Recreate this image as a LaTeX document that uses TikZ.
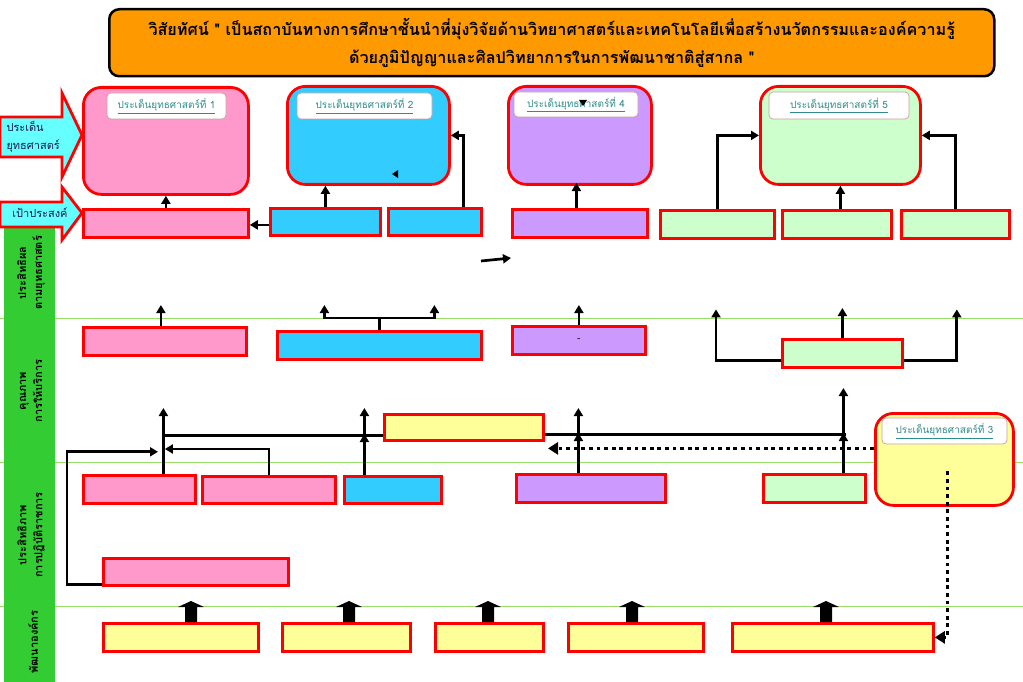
\documentclass[tikz,border=0pt]{standalone}
\usepackage{fontspec}
\setmainfont{Liberation Serif}
\newfontfamily\thai[Script=Thai]{Loma}
\usetikzlibrary{arrows.meta}
\definecolor{pinkF}{HTML}{FF99CC}
\definecolor{blueF}{HTML}{33CCFF}
\definecolor{purpF}{HTML}{CC99FF}
\definecolor{grnF}{HTML}{CCFFCC}
\definecolor{yelF}{HTML}{FFFF99}
\definecolor{cyanF}{HTML}{66FFFF}
\definecolor{barG}{HTML}{33CC33}
\definecolor{lineG}{HTML}{99DD66}
\definecolor{tealT}{HTML}{2E8C8C}
\definecolor{lblB}{HTML}{C8A0A0}
\definecolor{orangeT}{HTML}{FF9900}
\definecolor{navyT}{HTML}{1A1A50}
\newcommand\bx[6]{\node[#1, minimum width={(#5-#3)*1pt}, minimum height={(#6-#4)*1pt}] (#2) at (#3,#4) {};}
\newcommand\lb[6]{\node[lbl, minimum width=#4pt, minimum height=#5pt] (#1) at (#2,#3) {\underline{#6}};}
\newcommand\blk[1]{\fill[black] (#1-6,622) -- (#1-6,607) -- (#1-13,607) -- (#1,601) -- (#1+13,607) -- (#1+6,607) -- (#1+6,622) -- cycle;}
\begin{document}
\begin{tikzpicture}[x=1pt,y=-1pt,
  rbox/.style={draw=red, line width=2.8pt, inner sep=0pt, anchor=north west},
  tbox/.style={rbox, rounded corners=18pt},
  lbl/.style={draw=lblB, line width=0.7pt, fill=white, rounded corners=4pt, inner sep=0pt, font=\thai\fontsize{10}{12}\selectfont, text=tealT},
  arr/.style={draw=black, line width=2.7pt, -{Triangle[width=9pt,length=8pt]}},
  plain/.style={draw=black, line width=2.7pt},
  dots/.style={draw=black, line width=3.8pt, dash pattern=on 3.8pt off 3.8pt, -{Triangle[width=12pt,length=10pt]}},
  barlbl/.style={rotate=90, font=\thai\bfseries\fontsize{11}{16}\selectfont, align=center, text=black},
  lefttxt/.style={font=\thai\fontsize{11}{18}\selectfont, text=navyT, align=left}]
\useasboundingbox (0,0) rectangle (1023,682);
% band lines
\draw[lineG, line width=1pt] (0,318) -- (1023,318);
\draw[lineG, line width=1pt] (0,462) -- (1023,462);
\draw[lineG, line width=1pt] (0,606) -- (1023,606);
% green bar
\fill[barG] (4,227) rectangle (55,682);
\node[barlbl] (bl1) at (31,273) {ประสิทธิผล\\ตามยุทธศาสตร์};
\node[barlbl] (bl2) at (31,391) {คุณภาพ\\การให้บริการ};
\node[barlbl] (bl3) at (31,535) {ประสิทธิภาพ\\การปฏิบัติราชการ};
\node[barlbl] (bl4) at (33,642) {พัฒนาองค์กร};
% title
\node[draw=black, line width=2.5pt, fill=orangeT, rounded corners=10pt, minimum width=885pt, minimum height=67pt, anchor=north west, inner sep=0pt] (title) at (108,8) {};
\node[font=\thai\bfseries\fontsize{16.2}{28}\selectfont, align=center] (titletxt) at (title.center) {วิสัยทัศน์ " เป็นสถาบันทางการศึกษาชั้นนำที่มุ่งวิจัยด้านวิทยาศาสตร์และเทคโนโลยีเพื่อสร้างนวัตกรรมและองค์ความรู้\\ด้วยภูมิปัญญาและศิลปวิทยาการในการพัฒนาชาติสู่สากล "};
% left arrows
\draw[draw=red, line width=2.8pt, fill=cyanF] (0,117) -- (62,117) -- (62,93) -- (82,135) -- (62,177) -- (62,157) -- (0,157) -- cycle;
\node[lefttxt, anchor=west] (la1) at (3,137) {ประเด็น\\ยุทธศาสตร์};
\draw[draw=red, line width=2.8pt, fill=cyanF] (0,202) -- (62,202) -- (62,187) -- (82,213) -- (62,240) -- (62,227) -- (0,227) -- cycle;
\node[lefttxt] (la2) at (40,213) {เป้าประสงค์};
% top boxes
\bx{tbox, fill=pinkF}{t1}{82}{86}{247}{193}
\bx{tbox, fill=blueF}{t2}{286}{85}{448}{183}
\bx{tbox, fill=purpF}{tp}{507}{85}{650}{183}
\bx{tbox, fill=grnF}{tg}{759}{85}{919}{183}
\lb{l1}{166.5}{106}{119}{26}{ประเด็นยุทธศาสตร์ที่ 1}
\lb{l2}{364.5}{106}{135}{26}{ประเด็นยุทธศาสตร์ที่ 2}
\lb{l4}{576}{104.5}{124}{25}{ประเด็นยุทธศาสตร์ที่ 4}
\lb{l5}{839}{105.5}{140}{27}{ประเด็นยุทธศาสตร์ที่ 5}
\fill[black] (392,174) -- (398,170) -- (398,178) -- cycle;
\fill[black] (579,100) -- (587,100) -- (583,106) -- cycle;
% goal row
\bx{rbox, fill=pinkF}{g1}{82}{208}{247}{236}
\bx{rbox, fill=blueF}{gb1}{269}{207}{379}{234}
\bx{rbox, fill=blueF}{gb2}{387}{207}{480}{234}
\bx{rbox, fill=purpF}{gp}{511}{208}{646}{236}
\bx{rbox, fill=grnF}{gg1}{659}{209}{773}{237}
\bx{rbox, fill=grnF}{gg2}{781}{209}{890}{237}
\bx{rbox, fill=grnF}{gg3}{900}{209}{1008}{237}
\draw[arr] (g1.north) -- (t1.south);
\draw[arr] ([yshift=-3pt]gb1.west) -- ([yshift=-3pt]gb1.west -| g1.east);
\draw[arr] (gb1.north) -- (gb1.north |- t2.south);
\draw[arr] ([xshift=28.5pt]gb2.north) |- (t2.east);
\draw[arr] ([xshift=-3.5pt]gp.north) -- ++(0,-25);
\draw[arr] (gg1.north) |- (tg.west);
\draw[arr] (tg.south |- gg2.north) -- (tg.south);
\draw[arr] (gg3.north) |- (tg.east);
\coordinate (sa1) at (481,261);
\coordinate (sa2) at (511,258);
\draw[arr] (sa1) -- (sa2);
% quality row
\bx{rbox, fill=pinkF}{q1}{82}{326}{245}{354}
\bx{rbox, fill=blueF}{q2}{276}{330}{480}{358}
\node[rbox, fill=purpF, minimum width=133pt, minimum height=28pt] (q3) at (511,325) {\fontsize{10}{10}\selectfont -};
\bx{rbox, fill=grnF}{q4}{781}{338}{901}{366}
\draw[arr] ([xshift=-4pt]q1.north) -- ++(0,-21);
\draw[plain] (q2.north) -- ++(0,-12);
\draw[arr] ([yshift=12pt]q2.north) -- ++(-55,0) -- ++(0,-13);
\draw[arr] ([yshift=12pt]q2.north) -- ++(55,0) -- ++(0,-13);
\draw[arr] (q3.north) -- ++(0,-20);
\draw[arr] ([yshift=-7pt]q4.west) -- ++(-65,0) -- ++(0,-51);
\draw[arr] ([yshift=-7pt]q4.east) -- ++(53,0) -- ++(0,-51);
\draw[arr] (q4.north) -- ++(0,-30);
% middle yellow + strategy 3
\bx{rbox, fill=yelF}{y3}{383}{413}{542}{439}
\bx{tbox, fill=yelF}{s3}{874}{412}{1012}{504}
\lb{l3}{944.5}{431}{125}{26}{ประเด็นยุทธศาสตร์ที่ 3}
% efficiency row
\bx{rbox, fill=pinkF}{p31}{82}{474}{194}{502}
\bx{rbox, fill=pinkF}{p32}{201}{475}{334}{502}
\bx{rbox, fill=blueF}{b3}{343}{475}{440}{502}
\bx{rbox, fill=purpF}{pu3}{515}{473}{664}{501}
\bx{rbox, fill=grnF}{gr3}{762}{473}{864}{501}
\bx{rbox, fill=pinkF}{p4}{102}{557}{287}{584}
\draw[plain] ([yshift=-8pt]y3.west) -- ++(-221,0);
\draw[plain] ([yshift=-7pt]y3.east) -- ++(301,0);
\draw[arr] ([xshift=24pt]p31.north) -- ++(0,-66);
\draw[arr] ([yshift=2pt]p4.south west) -- ++(-35,0) -- ++(0,-133) -- ++(91,0);
\draw[arr] (p32.north) -- ++(0,-26) -- ++(-104,0);
\draw[arr] ([xshift=-28.5pt]b3.north) -- ++(0,-41);
\draw[arr] ([xshift=-28.5pt,yshift=41pt]b3.north) -- ++(0,-26);
\draw[arr] ([xshift=-12.5pt]pu3.north) -- ++(0,-40);
\draw[arr] ([xshift=-12.5pt,yshift=40pt]pu3.north) -- ++(0,-25);
\draw[arr] ([xshift=29pt]gr3.north) -- ++(0,-40);
\draw[arr] ([xshift=29pt,yshift=40pt]gr3.north) -- ++(0,-45);
% development row
\bx{rbox, fill=yelF}{y51}{102}{622}{257}{650}
\bx{rbox, fill=yelF}{y52}{281}{622}{409}{650}
\bx{rbox, fill=yelF}{y53}{434}{622}{542}{650}
\bx{rbox, fill=yelF}{y54}{567}{622}{702}{650}
\bx{rbox, fill=yelF}{y55}{731}{622}{932}{650}
\blk{191}
\blk{349}
\blk{488}
\blk{632}
\blk{826}
% dotted links
\draw[dots] ([yshift=11pt]s3.west) -- ++(-326,0);
\draw[dots] ([xshift=3pt,yshift=-12pt]s3.center) |- (y55.east);
\end{tikzpicture}
\end{document}
